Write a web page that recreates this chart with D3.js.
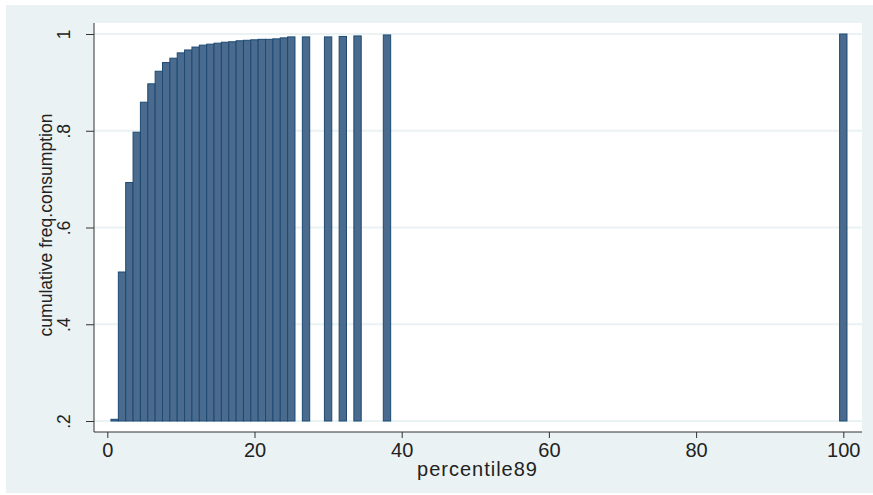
<!DOCTYPE html>
<html>
<head>
<meta charset="utf-8">
<script src="https://cdn.jsdelivr.net/npm/d3@7"></script>
<style>
  html, body { margin: 0; padding: 0; background: #ffffff; }
  svg { display: block; }
  text { font-family: "Liberation Sans", Arial, Helvetica, sans-serif; fill: #222; }
</style>
</head>
<body>
<script>
// ---- data ----
const percentile = [1,2,3,4,5,6,7,8,9,10,11,12,13,14,15,16,17,18,19,20,21,22,23,24,25,27,30,32,34,38,100];
const cumFreq = [0.2035,0.508,0.693,0.797,0.859,0.897,0.923,0.941,0.950,0.961,0.967,0.973,0.977,0.979,0.981,0.983,0.984,0.986,0.987,0.988,0.989,0.989,0.990,0.992,0.994,0.994,0.994,0.995,0.996,0.998,1.0];
const xTicks = [0,20,40,60,80,100];
const yTicks = [0.2,0.4,0.6,0.8,1.0];
const yTickLabels = [".2",".4",".6",".8","1"];
const xTitle = "percentile89";
const yTitle = "cumulative freq.consumption";

// ---- layout ----
const W = 873, H = 495;
const svg = d3.select("body").append("svg").attr("width", W).attr("height", H);

// graph region background
svg.append("rect").attr("x", 6).attr("y", 5).attr("width", W - 6).attr("height", 488).attr("fill", "#eaf2f3");

// plot region
const plot = { left: 94, right: 862, top: 23, bottom: 432 };
svg.append("rect").attr("x", plot.left).attr("y", plot.top)
  .attr("width", plot.right - plot.left).attr("height", plot.bottom - plot.top).attr("fill", "#ffffff");

const x = d3.scaleLinear().domain([0, 100]).range([107.3, 843.3]);
const y = d3.scaleLinear().domain([0.2, 1]).range([421, 34]);

// gridlines
svg.append("g").selectAll("line").data(yTicks).join("line")
  .attr("x1", plot.left).attr("x2", plot.right)
  .attr("y1", d => y(d)).attr("y2", d => y(d))
  .attr("stroke", "#eaf2f3").attr("stroke-width", 2);

// bars
const unit = x(1) - x(0);
svg.append("g").selectAll("rect").data(percentile.map((p, i) => ({ p, v: cumFreq[i] }))).join("rect")
  .attr("x", d => x(d.p) - unit / 2)
  .attr("width", unit)
  .attr("y", d => y(d.v))
  .attr("height", d => Math.max(y(0.2) - y(d.v), 1))
  .attr("fill", "#4a6b8d")
  .attr("stroke", "#1c4a74")
  .attr("stroke-width", 1);

// x axis
const xAxis = d3.axisBottom(x).tickValues(xTicks).tickSize(6).tickPadding(5).tickFormat(d3.format("d"));
const gx = svg.append("g").attr("transform", `translate(0,${plot.bottom})`).call(xAxis);
gx.select(".domain").remove();
gx.append("line").attr("x1", plot.left).attr("x2", plot.right).attr("y1", 0).attr("y2", 0)
  .attr("stroke", "#333").attr("stroke-width", 1);
gx.selectAll(".tick line").attr("stroke", "#333");
gx.selectAll(".tick text").attr("font-size", "20px").attr("fill", "#222")
  .attr("font-family", "Liberation Sans, Arial, sans-serif");

// y axis
const yAxis = d3.axisLeft(y).tickValues(yTicks).tickSize(8).tickFormat((d, i) => yTickLabels[i]);
const gy = svg.append("g").attr("transform", `translate(${plot.left},0)`).call(yAxis);
gy.select(".domain").remove();
gy.append("line").attr("x1", 0).attr("x2", 0).attr("y1", plot.top).attr("y2", plot.bottom)
  .attr("stroke", "#333").attr("stroke-width", 1);
gy.selectAll(".tick line").attr("stroke", "#333");
gy.selectAll(".tick text")
  .attr("font-size", "17.5px").attr("fill", "#222")
  .attr("font-family", "Liberation Sans, Arial, sans-serif")
  .attr("text-anchor", "middle")
  .attr("x", null).attr("dy", null)
  .attr("transform", "translate(-24,0) rotate(-90)");

// axis titles
svg.append("text").attr("x", 477.5).attr("y", 475.5).attr("text-anchor", "middle")
  .attr("font-size", "20px").attr("letter-spacing", "1px").text(xTitle);
svg.append("text").attr("transform", "translate(51.5,225) rotate(-90)").attr("text-anchor", "middle")
  .attr("font-size", "17.5px").text(yTitle);
</script>
</body>
</html>
